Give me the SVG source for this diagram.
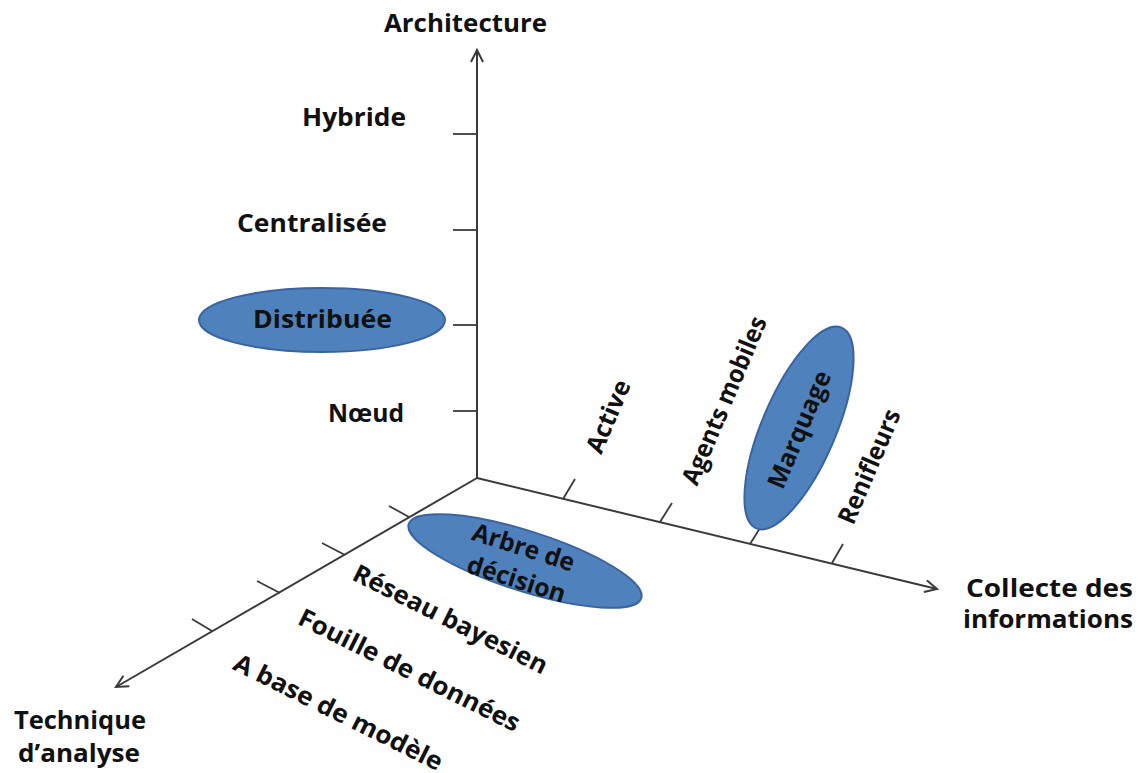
<svg xmlns="http://www.w3.org/2000/svg" width="1138" height="773" viewBox="0 0 1138 773">
<defs>
<marker id="arr" markerUnits="userSpaceOnUse" markerWidth="16" markerHeight="16" refX="13" refY="7" orient="auto">
<path d="M1,1 L13,7 L1,13" fill="none" stroke="#3a3a3a" stroke-width="2"/>
</marker>
<style>
.ax{stroke:#3a3a3a;stroke-width:2;fill:none}
.tk{stroke:#3a3a3a;stroke-width:1.8;fill:none}
.t{font-family:"Open Sans","DejaVu Sans",sans-serif;font-weight:700;font-size:25px;fill:#111}
.r{text-anchor:middle;dominant-baseline:central}
.el{fill:#4F81BD;stroke:#3A64A0;stroke-width:2}
</style>
</defs>
<rect width="1138" height="773" fill="#fff"/>
<g id="connectors">
<line class="ax" x1="477" y1="479" x2="477" y2="50" marker-end="url(#arr)"/>
<line class="ax" x1="477" y1="478" x2="937" y2="589" marker-end="url(#arr)"/>
<line class="ax" x1="477" y1="478" x2="116" y2="687" marker-end="url(#arr)"/>
<line class="tk" x1="453" y1="134" x2="477" y2="134"/>
<line class="tk" x1="453" y1="230" x2="477" y2="230"/>
<line class="tk" x1="453" y1="325" x2="477" y2="325"/>
<line class="tk" x1="453" y1="411" x2="477" y2="411"/>
<line class="tk" x1="389" y1="506" x2="409" y2="517"/>
<line class="tk" x1="322" y1="543" x2="345" y2="555"/>
<line class="tk" x1="257" y1="581" x2="280" y2="593"/>
<line class="tk" x1="192" y1="619" x2="212" y2="631"/>
<line class="tk" x1="563" y1="499" x2="575" y2="479"/>
<line class="tk" x1="660" y1="522" x2="672" y2="503"/>
<line class="tk" x1="750" y1="544" x2="762" y2="525"/>
<line class="tk" x1="832" y1="563" x2="843" y2="544"/>
</g>
<g id="axis-architecture">
<text class="t" x="384" y="32" textLength="163" lengthAdjust="spacingAndGlyphs">Architecture</text>
<text class="t" x="302" y="126" textLength="104" lengthAdjust="spacingAndGlyphs">Hybride</text>
<text class="t" x="237" y="232" textLength="150" lengthAdjust="spacingAndGlyphs">Centralisée</text>
<text class="t" x="328" y="422" textLength="76" lengthAdjust="spacingAndGlyphs">Nœud</text>
</g>
<g id="node-distribuee">
<ellipse class="el" cx="322" cy="320" rx="123" ry="32"/>
<text class="t" x="253" y="328" textLength="139" lengthAdjust="spacingAndGlyphs">Distribuée</text>
</g>
<g id="axis-collecte">
<text class="t" x="966" y="597" textLength="167" lengthAdjust="spacingAndGlyphs">Collecte des</text>
<text class="t" x="963" y="628" textLength="170" lengthAdjust="spacingAndGlyphs">informations</text>
<text class="t r" transform="translate(607,416) rotate(-67)" textLength="77" lengthAdjust="spacingAndGlyphs">Active</text>
<text class="t r" transform="translate(723,400) rotate(-67)" textLength="180" lengthAdjust="spacingAndGlyphs">Agents mobiles</text>
<text class="t r" transform="translate(868,466) rotate(-67)" textLength="122" lengthAdjust="spacingAndGlyphs">Renifleurs</text>
</g>
<g id="node-marquage">
<ellipse class="el" cx="0" cy="0" rx="109" ry="37" transform="translate(799,428) rotate(-67)"/>
<text class="t r" transform="translate(798,429) rotate(-67)" textLength="125" lengthAdjust="spacingAndGlyphs">Marquage</text>
</g>
<g id="axis-technique">
<text class="t" x="14" y="729" textLength="132" lengthAdjust="spacingAndGlyphs">Technique</text>
<text class="t" x="18" y="762" textLength="122" lengthAdjust="spacingAndGlyphs">d’analyse</text>
<text class="t r" transform="translate(451,618) rotate(26.5)" textLength="214" lengthAdjust="spacingAndGlyphs">Réseau bayesien</text>
<text class="t r" transform="translate(410,669) rotate(26.5)" textLength="244" lengthAdjust="spacingAndGlyphs">Fouille de données</text>
<text class="t r" transform="translate(339,711) rotate(26.5)" textLength="230" lengthAdjust="spacingAndGlyphs">A base de modèle</text>
</g>
<g id="node-arbre">
<ellipse class="el" cx="0" cy="0" rx="122" ry="30" transform="translate(525,561) rotate(17.7)"/>
<text class="t r" transform="translate(524,546) rotate(17.7)" textLength="106" lengthAdjust="spacingAndGlyphs">Arbre de</text>
<text class="t r" transform="translate(517,578) rotate(17.7)" textLength="102" lengthAdjust="spacingAndGlyphs">décision</text>
</g>
</svg>
